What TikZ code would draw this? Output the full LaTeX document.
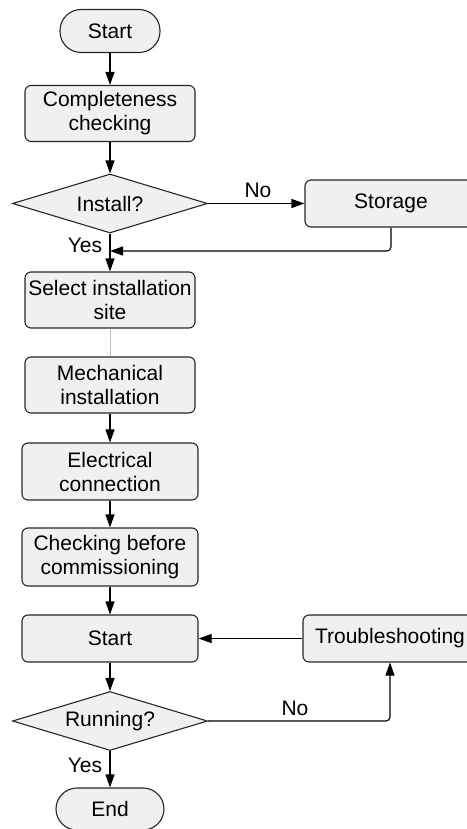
\documentclass[tikz,border=0pt]{standalone}
\usepackage{fontspec}
\setmainfont{Liberation Sans}
\usetikzlibrary{shapes.geometric,arrows.meta}

\begin{document}
\begin{tikzpicture}[x=1pt,y=-1pt,
    every node/.style={font=\fontsize{21}{24}\selectfont},
    box/.style={draw=black!85,line width=1.1pt,fill=black!6,rounded corners=6pt,align=center,inner xsep=0pt,minimum width=170pt,minimum height=56pt},
    term/.style={draw=black!85,line width=1.1pt,fill=black!6,rounded corners=21pt,minimum width=100pt,minimum height=43pt},
    decision/.style={diamond,draw=black!85,line width=1.1pt,fill=black!6,aspect=3.3,inner sep=0pt,minimum width=195pt,minimum height=59pt},
    flow/.style={line width=1.1pt,-{Triangle[length=13pt,width=9pt]}}]
    \useasboundingbox (0,0) rectangle (466,829);
    % main column
    \node[term] (start) at (110,31) {Start};
    \node[box] (check) at (110,113.5) {Completeness\\checking};
    \node[decision] (install) at (110,203.5) {Install?};
    \node[box,minimum width=172pt,minimum height=47pt] (storage) at (391,203.5) {Storage};
    \node[box] (site) at (110,300) {Select installation\\site};
    \node[box] (mech) at (110,385) {Mechanical\\installation};
    \node[box,minimum width=176pt,minimum height=57pt] (elec) at (110,471.5) {Electrical\\connection};
    \node[box,minimum width=176pt,minimum height=58pt] (precheck) at (110,557) {Checking before\\commissioning};
    \node[box,minimum width=176pt,minimum height=47pt] (run) at (110,638.5) {Start};
    \node[box,minimum width=174pt,minimum height=47pt] (trouble) at (390,638.5) {Troubleshooting};
    \node[decision] (running) at (110,721) {Running?};
    \node[term,minimum width=108pt,minimum height=42pt] (stop) at (110,809) {End};
    \coordinate (join) at (110,251);
    % labels
    \node (noA) at (258,190) {No};
    \node (yesA) at (85,245) {Yes};
    \node (noB) at (295,708) {No};
    \node (yesB) at (85,765) {Yes};
    % connectors
    \draw[flow] (start) -- (check);
    \draw[flow] (check) -- (install);
    \draw[flow] (install) -- (storage);
    \draw[flow,rounded corners=4pt] (storage.south) |- (join);
    \draw[flow] (install) -- (site);
    \draw[gray!50,line width=0.8pt] (site) -- (mech);
    \draw[flow] (mech) -- (elec);
    \draw[flow] (elec) -- (precheck);
    \draw[flow] (precheck) -- (run);
    \draw[flow] (trouble) -- (run);
    \draw[flow] (run) -- (running);
    \draw[flow,rounded corners=4pt] (running.east) -| (trouble.south);
    \draw[flow] (running) -- (stop);
\end{tikzpicture}
\end{document}
